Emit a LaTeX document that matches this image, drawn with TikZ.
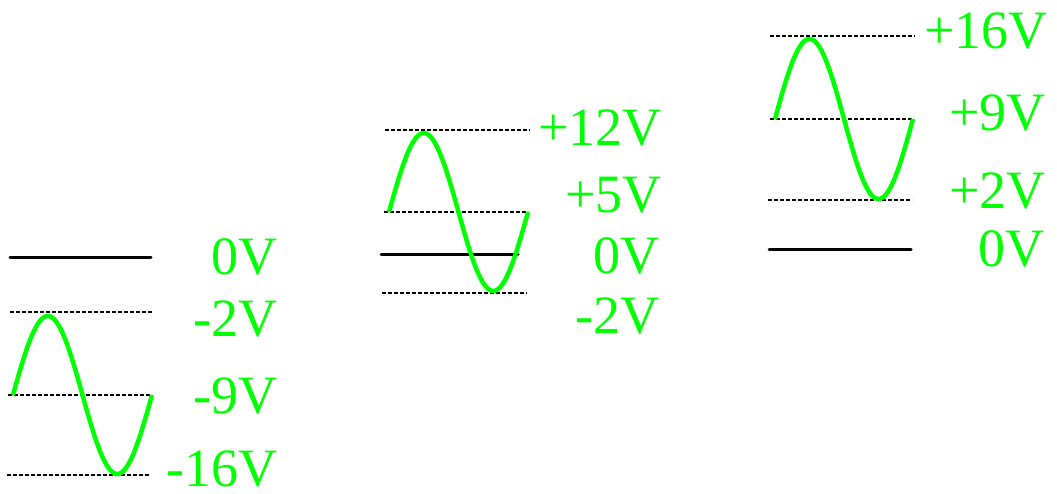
\documentclass[tikz,border=0pt]{standalone}
\usepackage{fontspec}
\setmainfont{Liberation Serif}
\definecolor{vgreen}{RGB}{0,255,0}
\begin{document}
\begin{tikzpicture}[x=1pt,y=-1pt,
  gnd/.style={black,line width=3pt,line cap=round},
  ref/.style={black,line width=1.1pt,dash pattern=on 4pt off 2pt},
  sine/.style={vgreen,line width=4.5pt},
  lab/.style={vgreen,anchor=base east,inner sep=0pt,font=\fontsize{54}{60}\selectfont}]
\useasboundingbox (0,0) rectangle (1057,494);
% panel 1
\draw[gnd] (10,258) -- (151,258);
\draw[ref] (10,312) -- (153,312);
\draw[ref] (8,395) -- (151,395);
\draw[ref] (7,475) -- (150,475);
\draw[sine] plot[domain=0:360,samples=80] ({13+\x/360*139},{395-79*sin(\x)});
\node[lab] (a0) at (278,275) {0V};
\node[lab] (a1) at (278,336) {-2V};
\node[lab] (a2) at (278,413) {-9V};
\node[lab] (a3) at (278,486) {-16V};
% panel 2
\draw[ref] (385,130) -- (530,130);
\draw[ref] (384,212) -- (528,212);
\draw[gnd] (381,255) -- (518,255);
\draw[ref] (382,293) -- (527,293);
\draw[sine] plot[domain=0:360,samples=80] ({389+\x/360*139},{212-79*sin(\x)});
\node[lab] (b0) at (662,146) {+12V};
\node[lab] (b1) at (662,213) {+5V};
\node[lab] (b2) at (660,273) {0V};
\node[lab] (b3) at (660,333) {-2V};
% panel 3
\draw[ref] (770,36) -- (915,36);
\draw[ref] (770,119) -- (914,119);
\draw[ref] (768,200) -- (912,200);
\draw[gnd] (769,250) -- (911,250);
\draw[sine] plot[domain=0:360,samples=80] ({775+\x/360*138},{119-80*sin(\x)});
\node[lab] (c0) at (1048,49) {+16V};
\node[lab] (c1) at (1046,131) {+9V};
\node[lab] (c2) at (1046,209) {+2V};
\node[lab] (c3) at (1045,267) {0V};
\end{tikzpicture}
\end{document}
